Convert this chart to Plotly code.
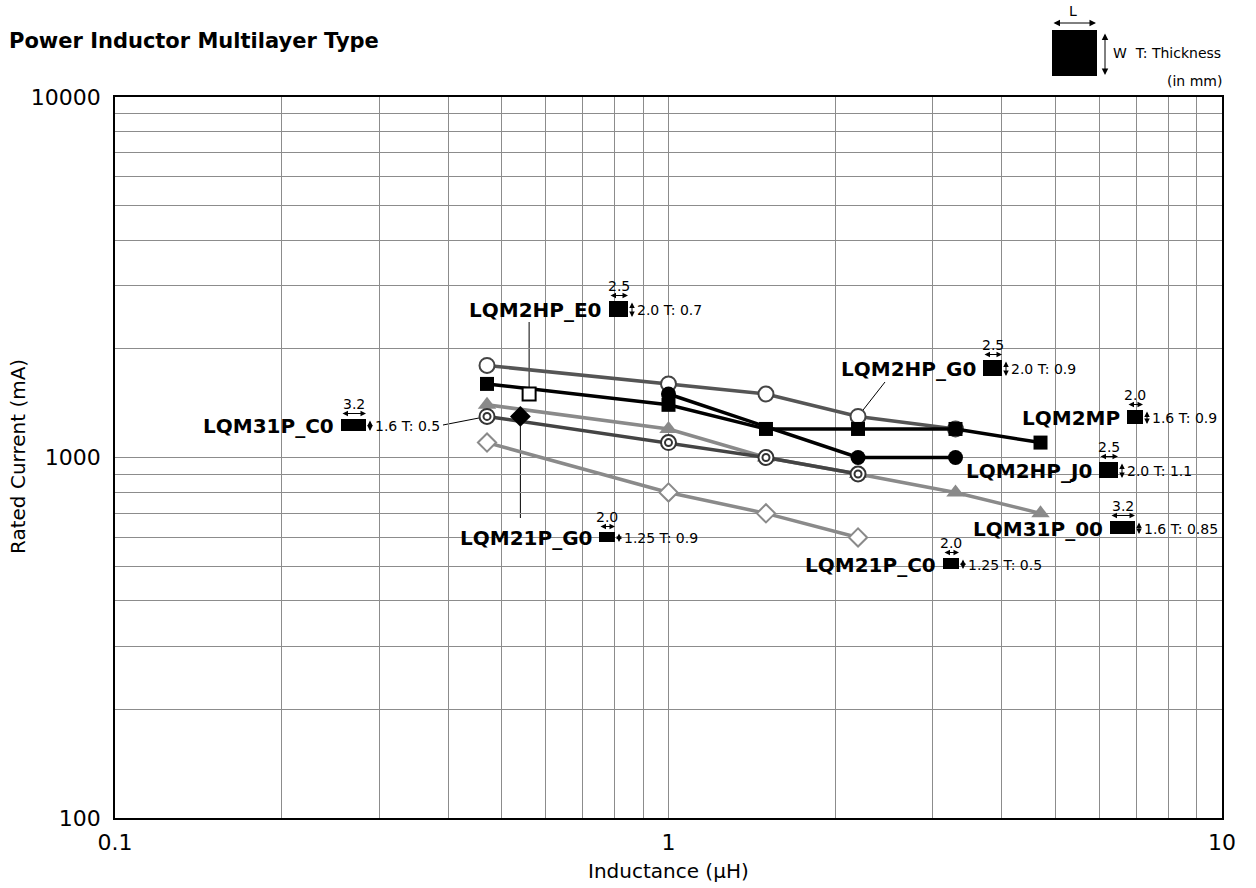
import math
import plotly.graph_objects as go

# ---------------- data (inductance in uH, rated current in mA) ----------------
L_2HP_G0 = [0.47, 1.0, 1.5, 2.2, 3.3]
I_2HP_G0 = [1800, 1600, 1500, 1300, 1200]

L_2MP = [0.47, 1.0, 1.5, 2.2, 3.3, 4.7]
I_2MP = [1600, 1400, 1200, 1200, 1200, 1100]

L_2HP_J0 = [1.0, 2.2, 3.3]
I_2HP_J0 = [1500, 1000, 1000]

L_31P_C0 = [0.47, 1.0, 1.5, 2.2]
I_31P_C0 = [1300, 1100, 1000, 900]

L_31P_00 = [0.47, 1.0, 1.5, 2.2, 3.3, 4.7]
I_31P_00 = [1400, 1200, 1000, 900, 800, 700]

L_21P_C0 = [0.47, 1.0, 1.5, 2.2]
I_21P_C0 = [1100, 800, 700, 600]

L_2HP_E0 = [0.56]
I_2HP_E0 = [1500]

L_21P_G0 = [0.54]
I_21P_G0 = [1300]

x_tickvals = [0.1, 0.2, 0.3, 0.4, 0.5, 0.6, 0.7, 0.8, 0.9,
              1, 2, 3, 4, 5, 6, 7, 8, 9, 10]
x_ticktext = ['0.1', '', '', '', '', '', '', '', '',
              '1', '', '', '', '', '', '', '', '', '10']
y_tickvals = [100, 200, 300, 400, 500, 600, 700, 800, 900,
              1000, 2000, 3000, 4000, 5000, 6000, 7000, 8000, 9000, 10000]
y_ticktext = ['100', '', '', '', '', '', '', '', '',
              '1000', '', '', '', '', '', '', '', '', '10000']

# ---------------- layout helpers ----------------
W, H = 1256, 888
ML, MR, MT, MB = 115, 34, 97, 70
PW = W - ML - MR
PH = H - MT - MB
FONT = "DejaVu Sans, Verdana, sans-serif"


def pxp(px):
    return (px - ML) / PW


def pyp(py):
    return (H - MB - py) / PH


def d2p(x, y):
    return (math.log10(x) + 1) / 2, (math.log10(y) - 2) / 2


fig = go.Figure()


def series(xs, ys, color, width, marker, name):
    fig.add_trace(go.Scatter(
        x=xs, y=ys, mode='lines+markers', name=name,
        line=dict(color=color, width=width),
        marker=marker, showlegend=False, hoverinfo='x+y+name'))


series(L_21P_C0, I_21P_C0, '#8a8a8a', 3.5,
       dict(symbol='diamond', size=14, color='white', line=dict(color='#8a8a8a', width=2)),
       'LQM21P_C0')
series(L_31P_00, I_31P_00, '#8a8a8a', 3.5,
       dict(symbol='triangle-up', size=16, color='#8a8a8a', line=dict(width=0)),
       'LQM31P_00')
series(L_31P_C0, I_31P_C0, '#444444', 3.5,
       dict(symbol='circle', size=15, color='white', line=dict(color='#333333', width=2)),
       'LQM31P_C0')
fig.add_trace(go.Scatter(
    x=L_31P_C0, y=I_31P_C0, mode='markers', showlegend=False, hoverinfo='skip',
    marker=dict(symbol='circle', size=7, color='white', line=dict(color='#333333', width=2))))
series(L_2HP_G0, I_2HP_G0, '#555555', 3.5,
       dict(symbol='circle', size=15, color='white', line=dict(color='#444444', width=2)),
       'LQM2HP_G0')
series(L_2MP, I_2MP, 'black', 3.5,
       dict(symbol='square', size=14, color='black'),
       'LQM2MP')
series(L_2HP_J0, I_2HP_J0, 'black', 3.5,
       dict(symbol='circle', size=15, color='black'),
       'LQM2HP_J0')
fig.add_trace(go.Scatter(
    x=L_2HP_E0, y=I_2HP_E0, mode='markers', name='LQM2HP_E0', showlegend=False,
    marker=dict(symbol='square', size=13, color='white', line=dict(color='black', width=2))))
fig.add_trace(go.Scatter(
    x=L_21P_G0, y=I_21P_G0, mode='markers', name='LQM21P_G0', showlegend=False,
    marker=dict(symbol='diamond', size=16, color='black')))

white_shapes = []
line_shapes = []
annots = []


def text(px, py, s, size, anchor='center', angle=0):
    annots.append(dict(
        x=pxp(px), y=pyp(py), xref='paper', yref='paper', text=s, showarrow=False,
        xanchor=anchor, yanchor='middle', textangle=angle,
        font=dict(size=size, color='black', family=FONT), borderpad=0))


def darrow(px0, py0, px1, py1, size=1.1):
    annots.append(dict(
        x=pxp(px1), y=pyp(py1), xref='paper', yref='paper',
        ax=px0 - px1, ay=py0 - py1, axref='pixel', ayref='pixel',
        text='', showarrow=True, arrowhead=2, arrowside='end+start',
        arrowsize=size, arrowwidth=1, arrowcolor='black',
        standoff=0, startstandoff=0))


def rect(px0, py0, px1, py1, color='black', layer='above'):
    shp = dict(type='rect', xref='paper', yref='paper',
               x0=pxp(px0), x1=pxp(px1), y0=pyp(py1), y1=pyp(py0),
               fillcolor=color, line=dict(width=0), layer=layer)
    if layer == 'between':
        white_shapes.append(shp)
    else:
        line_shapes.append(shp)


def part_label(name, bl, top, bw, bh, ltxt, wtxt, left_px, right_px):
    cy = top + bh / 2
    right = bl + bw
    # white patches hiding the grid behind the label (below the data marks)
    rect(left_px - 4, cy - 12, right_px + 4, cy + 12, color='white', layer='between')
    rect(bl + bw / 2 - 14, top - 23, bl + bw / 2 + 14, top, color='white', layer='between')
    text(bl - 6, cy + 1, '<b>' + name + '</b>', 20, anchor='right')
    text(bl + bw / 2, top - 15, ltxt, 14)
    text(right + 8, cy + 1, wtxt, 14, anchor='left')
    rect(bl, top, right, top + bh)
    darrow(bl, top - 5.5, right, top - 5.5)
    darrow(right + 4, top, right + 4, top + bh)


def leader(x0, y0, x1, y1):
    white_shapes.append(dict(type='line', xref='paper', yref='paper',
                             x0=x0, y0=y0, x1=x1, y1=y1,
                             line=dict(color='black', width=1), layer='between'))


part_label('LQM2HP_E0', 609, 301, 19, 16, '2.5', '2.0 T: 0.7', 471, 703)
part_label('LQM2HP_G0', 983, 360, 19, 16, '2.5', '2.0 T: 0.9', 842, 1077)
part_label('LQM2MP', 1127, 410, 16, 14, '2.0', '1.6 T: 0.9', 1022, 1217)
part_label('LQM2HP_J0', 1099, 462, 19, 16, '2.5', '2.0 T: 1.1', 963, 1193)
part_label('LQM31P_00', 1110, 521, 25, 13, '3.2', '1.6 T: 0.85', 978, 1216)
part_label('LQM31P_C0', 341, 419, 25, 12, '3.2', '1.6 T: 0.5', 205, 438)
part_label('LQM21P_G0', 599, 532, 16, 10, '2.0', '1.25 T: 0.9', 461, 697)
part_label('LQM21P_C0', 943, 558, 16, 11, '2.0', '1.25 T: 0.5', 803, 1042)

# leader lines from labels to points
ex, ey = d2p(L_2HP_E0[0], I_2HP_E0[0])
leader(ex, ey, ex, pyp(322))
gx, gy = d2p(L_21P_G0[0], I_21P_G0[0])
leader(gx, gy, gx, pyp(518))
cx, cy = d2p(L_31P_C0[0], I_31P_C0[0])
leader(pxp(443), pyp(425), cx, cy)
hx, hy = d2p(L_2HP_G0[3], I_2HP_G0[3])
leader(pxp(885), pyp(382), hx, hy)

# dimension key (top right)
rect(1052, 30, 1097, 76)
text(1073, 11, 'L', 14)
darrow(1052, 23, 1096, 23, size=1.3)
darrow(1105, 32, 1105, 75, size=1.3)
text(1112, 53, 'W  T: Thickness', 14, anchor='left')
text(1223, 81, '(in mm)', 14, anchor='right')

# titles
text(8, 41, '<b>Power Inductor Multilayer Type</b>', 21, anchor='left')
text(668, 871, 'Inductance (μH)', 20)
text(18, 457, 'Rated Current (mA)', 20, angle=-90)

axis_common = dict(
    type='log', showgrid=True, gridcolor='#8c8c8c', gridwidth=1,
    showline=True, linecolor='black', linewidth=1.5, mirror=True,
    ticks='', zeroline=False,
    tickfont=dict(size=22, color='black', family=FONT))

fig.update_layout(
    width=W, height=H,
    margin=dict(l=ML, r=MR, t=MT, b=MB, pad=0),
    paper_bgcolor='white', plot_bgcolor='white',
    font=dict(family=FONT, color='black'),
    xaxis=dict(axis_common, range=[-1, 1], tickvals=x_tickvals, ticktext=x_ticktext,
               ticklabelstandoff=4),
    yaxis=dict(axis_common, range=[2, 4], tickvals=y_tickvals, ticktext=y_ticktext,
               ticklabelstandoff=8),
    shapes=white_shapes + line_shapes, annotations=annots,
    showlegend=False,
)

fig.write_html("out.html", config={'displayModeBar': False},
               post_script="document.body.style.margin='0px';")
